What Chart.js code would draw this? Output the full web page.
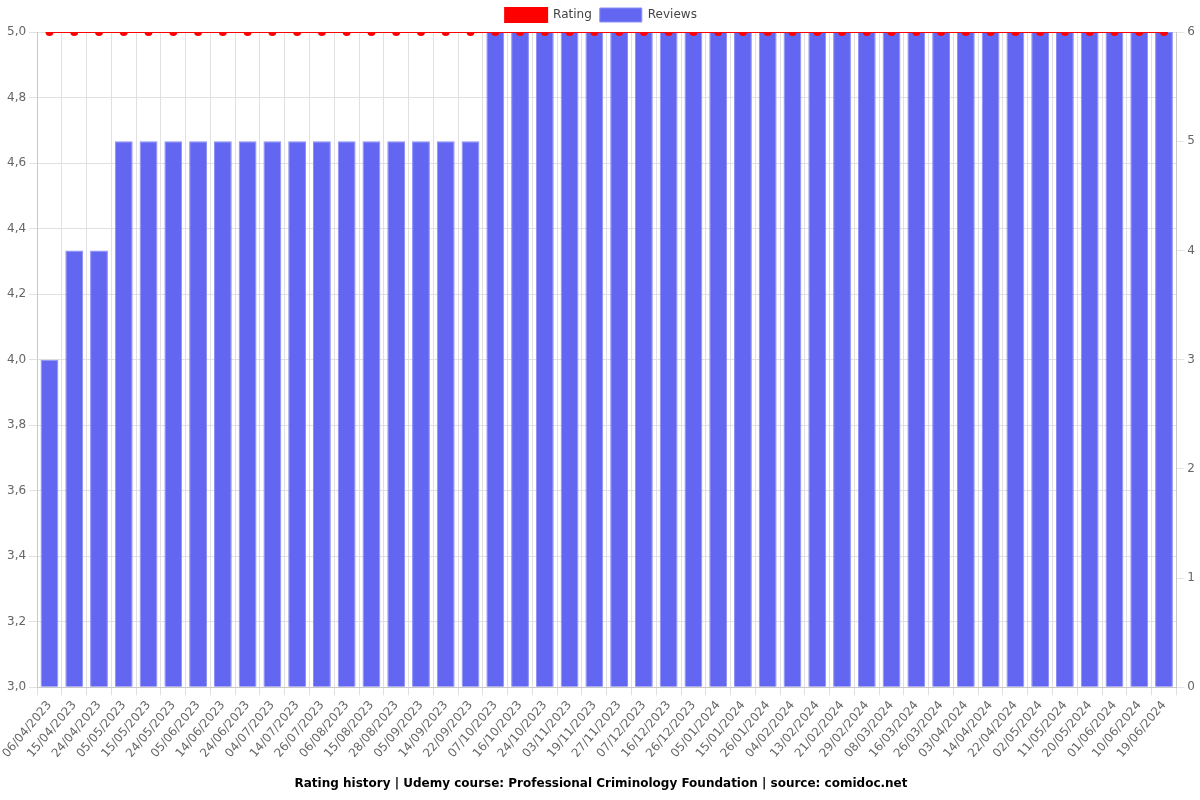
<!DOCTYPE html>
<html>
<head>
<meta charset="utf-8">
<script src="https://cdn.jsdelivr.net/npm/chart.js@4/dist/chart.umd.min.js"></script>
<style>
  html, body { margin: 0; padding: 0; background: #fff; }
  #wrap { width: 1200px; height: 800px; }
</style>
</head>
<body>
<div id="wrap"><canvas id="chart" width="1200" height="800"></canvas></div>
<script>
const days = [
  '06/04/2023', '15/04/2023', '24/04/2023', '05/05/2023', '15/05/2023', '24/05/2023',
  '05/06/2023', '14/06/2023', '24/06/2023', '04/07/2023', '14/07/2023', '26/07/2023',
  '06/08/2023', '15/08/2023', '28/08/2023', '05/09/2023', '14/09/2023', '22/09/2023',
  '07/10/2023', '16/10/2023', '24/10/2023', '03/11/2023', '19/11/2023', '27/11/2023',
  '07/12/2023', '16/12/2023', '26/12/2023', '05/01/2024', '15/01/2024', '26/01/2024',
  '04/02/2024', '13/02/2024', '21/02/2024', '29/02/2024', '08/03/2024', '16/03/2024',
  '26/03/2024', '03/04/2024', '14/04/2024', '22/04/2024', '02/05/2024', '11/05/2024',
  '20/05/2024', '01/06/2024', '10/06/2024', '19/06/2024',
]

const ratings = [
  5, 5, 5, 5, 5, 5, 5, 5, 5, 5, 5, 5, 5, 5, 5, 5, 5, 5, 5, 5, 5, 5, 5,
  5, 5, 5, 5, 5, 5, 5, 5, 5, 5, 5, 5, 5, 5, 5, 5, 5, 5, 5, 5, 5, 5, 5,
]

const reviews = [
  3, 4, 4, 5, 5, 5, 5, 5, 5, 5, 5, 5, 5, 5, 5, 5, 5, 5,
  6, 6, 6, 6, 6, 6, 6, 6, 6, 6, 6, 6, 6, 6, 6, 6, 6, 6, 6, 6, 6, 6, 6, 6, 6, 6, 6, 6,
]

const TITLE = 'Rating history | Udemy course: Professional Criminology Foundation | source: comidoc.net'

Chart.defaults.font.family = '"DejaVu Sans", sans-serif'
Chart.defaults.font.size = 12
Chart.defaults.color = '#666'

new Chart(document.getElementById('chart'), {
  type: 'bar',
  data: {
    labels: days,
    datasets: [
      {
        type: 'line',
        label: 'Rating',
        data: ratings,
        yAxisID: 'y',
        borderColor: '#ff0000',
        backgroundColor: '#ff0000',
        borderWidth: 2,
        pointRadius: 3,
        pointBackgroundColor: '#ff0000',
        tension: 0,
        order: 0,
      },
      {
        type: 'bar',
        label: 'Reviews',
        data: reviews,
        yAxisID: 'y1',
        backgroundColor: '#6366f1',
        borderColor: '#8b8ef5',
        borderWidth: 1,
        order: 1,
      },
    ],
  },
  options: {
    responsive: false,
    animation: false,
    layout: { padding: { left: 4, right: 2, top: 0, bottom: 0 } },
    scales: {
      x: {
        grid: { color: '#e0e0e0' },
        ticks: { autoSkip: false },
      },
      y: {
        position: 'left',
        min: 3,
        max: 5,
        grid: { color: '#e0e0e0' },
        ticks: {
          stepSize: 0.2,
          callback: (v) => Number(v).toFixed(1).replace('.', ','),
        },
      },
      y1: {
        position: 'right',
        min: 0,
        max: 6,
        grid: { drawOnChartArea: false },
        ticks: { stepSize: 1 },
      },
    },
    plugins: {
      legend: {
        position: 'top',
        labels: { boxWidth: 42, boxHeight: 14, color: '#444', padding: 8 },
      },
      title: {
        display: true,
        text: TITLE,
        position: 'bottom',
        color: '#000',
        font: { weight: 'bold', size: 12 },
        padding: { top: 13, bottom: 9 },
      },
      tooltip: { enabled: false },
    },
  },
})
</script>
</body>
</html>
